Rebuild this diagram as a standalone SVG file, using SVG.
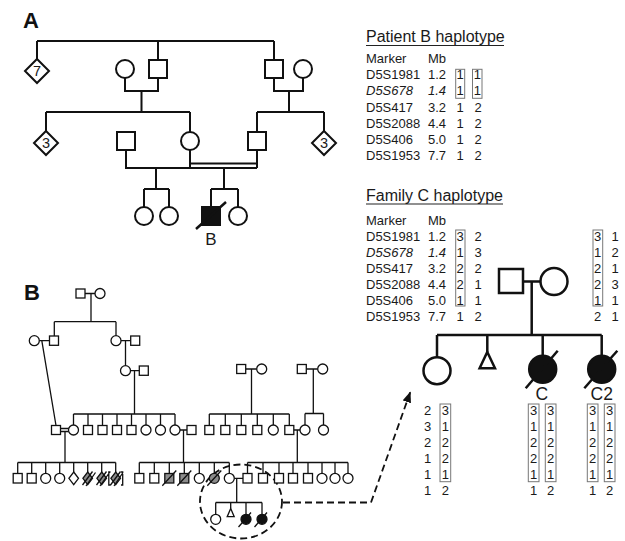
<svg xmlns="http://www.w3.org/2000/svg" width="625" height="541" viewBox="0 0 625 541">
<defs>
<style>
.t{font-family:"Liberation Sans",Arial,Helvetica,sans-serif;fill:#1a1a1a}
.h{font-size:16px}
.m{font-size:13px}
.i{font-style:italic}
.n{font-size:13px;text-anchor:middle}
.dg{font-size:14.5px;text-anchor:middle}
.lab{font-size:22px;font-weight:bold;fill:#111}
.sa{fill:#fff;stroke:#111;stroke-width:2}
.sb{fill:#fff;stroke:#111;stroke-width:1.3}
.sc{fill:#fff;stroke:#111;stroke-width:2.5}
.fa{fill:#111;stroke:#111;stroke-width:2}
.fb{fill:#111;stroke:#111;stroke-width:1.3}
.fc{fill:#111;stroke:#111;stroke-width:2.5}
.gb{fill:#8c8c8c;stroke:#111;stroke-width:1.3}
.la{fill:none;stroke:#111;stroke-width:2}
.lb{fill:none;stroke:#111;stroke-width:1.3}
.lc{fill:none;stroke:#111;stroke-width:2.5}
.box{fill:none;stroke:#777;stroke-width:1}
.dash{fill:none;stroke:#111;stroke-width:1.8;stroke-dasharray:7 4}
</style>
<marker id="ah" viewBox="0 0 10 8" refX="10" refY="4" markerWidth="11" markerHeight="9" markerUnits="userSpaceOnUse" orient="auto"><path d="M0,0L10,4L0,8z" fill="#111"/></marker>
</defs>
<rect width="625" height="541" fill="#fff"/>

<text class="t lab" x="23" y="28">A</text>
<text class="t lab" x="24" y="300">B</text>

<g id="connectors">
<path class="la" d="M37 41H274M37 41V59M158 41V60M274 41V60M125 78V91H158V78M141.5 91V112M46 112H190M46 112V131M190 112V132M274 78V91H303V78M289 91V112M257 112H324M257 112V132M324 112V131M126 150V168H257M190 150V168M190 163.5H257M257 150V168M156 168V189M144 189H169M144 189V207M169 189V207M224 168V189M211 189H238M211 189V207M238 189V207"/>
<path class="lc" d="M523 281.5H540.5M531.7 281.5V335M437 335H601.7M437 335V357M487.3 335V352M542.7 335V355.3M601.7 335V355.3"/>
<path class="lb" d="M85 293.5H95M91 293.5V321.7M54.3 321.7H116M54.3 321.7V336M116 321.7V335.7M39.3 340.7H49.5M121 340.7H130.7M41.8 340.7L56 425.5M125.5 340.7V365.7M130.5 370.7H139.3M134.5 370.7V414M73.5 414H175M73.5 414V425M88 414V425.5M102.5 414V425.5M117 414V425.5M131.5 414V425.5M146 414V425M160.5 414V425M175 414V425M60.5 428.5H68.8M60.5 431.5H68.8M65 431.5V462.5M180 430H187M183.5 430V462.5M245.7 369H256.7M251.5 369V414M209.3 414H289.3M209.3 414V425.5M225.3 414V425.5M241.3 414V425.5M257.3 414V425.5M273.3 414V425M289.3 414V425.5M306.3 369H317.7M313.3 369V413.5M305 413.5H323.5M305 413.5V425M323.5 413.5V425M293.8 430H300M297.3 430V462.5M17.7 462.5H115.7M17.7 462.5V473.5M31.7 462.5V473.5M45.7 462.5V473.3M59.7 462.5V473.3M73.7 462.5V472M87.7 462.5V472M101.7 462.5V472M115.7 462.5V472M139.3 462.5H229.3M139.3 462.5V473.5M154.3 462.5V473.5M169.3 462.5V473.5M184.3 462.5V473.5M199.3 462.5V473.3M214.3 462.5V473.3M229.3 462.5V473.3M247.5 462.5H348M247.5 462.5V473.5M263 462.5V473.5M279 462.5V473.5M293 462.5V473.5M308 462.5V473.5M322 462.5V473.3M335 462.5V473.3M348 462.5V473.3M234.3 478.3H243M236.7 478.3V502.5M215.7 502.5H262M215.7 502.5V514.3M230.7 502.5V508.5M246 502.5V514.3M262 502.5V514.3"/>
<ellipse class="dash" cx="241" cy="501.5" rx="41" ry="37"/>
<path class="dash" d="M283 502.5H371L410.5 391.5" marker-end="url(#ah)"/>
</g>

<!-- Panel A nodes -->
<g id="a-d7"><polygon class="sa" points="37,59 49,71 37,83 25,71"/><text class="t dg" x="37" y="76.2">7</text></g>
<g id="a-gm1"><circle class="sa" cx="125" cy="69" r="9"/></g>
<g id="a-gf1"><rect class="sa" x="149" y="60" width="18" height="18"/></g>
<g id="a-gf2"><rect class="sa" x="265" y="60" width="18" height="18"/></g>
<g id="a-gm2"><circle class="sa" cx="303" cy="69" r="9"/></g>
<g id="a-d3l"><polygon class="sa" points="46,131 58,143 46,155 34,143"/><text class="t dg" x="46" y="148.2">3</text></g>
<g id="a-h1"><rect class="sa" x="117" y="132" width="18" height="18"/></g>
<g id="a-mo"><circle class="sa" cx="190" cy="141" r="9"/></g>
<g id="a-h2"><rect class="sa" x="248" y="132" width="18" height="18"/></g>
<g id="a-d3r"><polygon class="sa" points="324,131 336,143 324,155 312,143"/><text class="t dg" x="324" y="148.2">3</text></g>
<g id="a-c1"><circle class="sa" cx="144" cy="216" r="9"/></g>
<g id="a-c2"><circle class="sa" cx="169" cy="216" r="9"/></g>
<g id="a-B"><rect class="fa" x="202" y="207" width="18" height="18"/><path class="lc" d="M196 229L226 202"/><text class="t" x="211" y="245" font-size="17" text-anchor="middle">B</text></g>
<g id="a-c4"><circle class="sa" cx="238" cy="216" r="9"/></g>

<!-- Patient B haplotype -->
<g id="tableB">
<text class="t h" x="366" y="42">Patient B haplotype</text>
<path d="M366 45.5H504" stroke="#222" stroke-width="1.2"/>
<text class="t m" x="366" y="63">Marker</text><text class="t m" x="428" y="63">Mb</text>
<text class="t m" x="366" y="79.2">D5S1981</text><text class="t m" x="428" y="79.2">1.2</text><text class="t n" x="460" y="79.2">1</text><text class="t n" x="477.3" y="79.2">1</text>
<text class="t m i" x="366" y="95.4">D5S678</text><text class="t m i" x="428" y="95.4">1.4</text><text class="t n" x="460" y="95.4">1</text><text class="t n" x="477.3" y="95.4">1</text>
<text class="t m" x="366" y="111.6">D5S417</text><text class="t m" x="428" y="111.6">3.2</text><text class="t n" x="460" y="111.6">1</text><text class="t n" x="478" y="111.6">2</text>
<text class="t m" x="366" y="127.8">D5S2088</text><text class="t m" x="428" y="127.8">4.4</text><text class="t n" x="460" y="127.8">1</text><text class="t n" x="478" y="127.8">2</text>
<text class="t m" x="366" y="144">D5S406</text><text class="t m" x="428" y="144">5.0</text><text class="t n" x="460" y="144">1</text><text class="t n" x="478" y="144">2</text>
<text class="t m" x="366" y="160.2">D5S1953</text><text class="t m" x="428" y="160.2">7.7</text><text class="t n" x="460" y="160.2">1</text><text class="t n" x="478" y="160.2">2</text>
<rect class="box" x="455.7" y="69.3" width="9" height="29"/>
<rect class="box" x="472.5" y="69.3" width="9.5" height="29"/>
</g>

<!-- Family C haplotype -->
<g id="tableC">
<text class="t h" x="366" y="200.5">Family C haplotype</text>
<path d="M366 204H503" stroke="#222" stroke-width="1.2"/>
<text class="t m" x="366" y="225">Marker</text><text class="t m" x="428" y="225">Mb</text>
<text class="t m" x="366" y="241">D5S1981</text><text class="t m" x="428" y="241">1.2</text>
<text class="t m i" x="366" y="257">D5S678</text><text class="t m i" x="428" y="257">1.4</text>
<text class="t m" x="366" y="273">D5S417</text><text class="t m" x="428" y="273">3.2</text>
<text class="t m" x="366" y="289">D5S2088</text><text class="t m" x="428" y="289">4.4</text>
<text class="t m" x="366" y="305">D5S406</text><text class="t m" x="428" y="305">5.0</text>
<text class="t m" x="366" y="321">D5S1953</text><text class="t m" x="428" y="321">7.7</text>
<text class="t n" x="460" y="241">3</text><text class="t n" x="478" y="241">2</text>
<text class="t n" x="460" y="257">1</text><text class="t n" x="478" y="257">3</text>
<text class="t n" x="460" y="273">2</text><text class="t n" x="478" y="273">2</text>
<text class="t n" x="460" y="289">2</text><text class="t n" x="478" y="289">1</text>
<text class="t n" x="460" y="305">1</text><text class="t n" x="478" y="305">1</text>
<text class="t n" x="460" y="321">1</text><text class="t n" x="478" y="321">2</text>
<text class="t n" x="597.7" y="241">3</text><text class="t n" x="615" y="241">1</text>
<text class="t n" x="597.7" y="257">1</text><text class="t n" x="615" y="257">2</text>
<text class="t n" x="597.7" y="273">2</text><text class="t n" x="615" y="273">1</text>
<text class="t n" x="597.7" y="289">2</text><text class="t n" x="615" y="289">3</text>
<text class="t n" x="597.7" y="305">1</text><text class="t n" x="615" y="305">1</text>
<text class="t n" x="597.7" y="321">2</text><text class="t n" x="615" y="321">1</text>
<rect class="box" x="455.7" y="230" width="9.3" height="76"/>
<rect class="box" x="593" y="230" width="9.7" height="76"/>
</g>

<!-- Family C pedigree -->
<g id="c-father"><rect class="sc" x="499" y="269" width="24" height="24"/></g>
<g id="c-mother"><circle class="sc" cx="554" cy="281.5" r="13.5"/></g>
<g id="c-sis"><circle class="sc" cx="437" cy="370.7" r="13.5"/>
<text class="t n" x="427.7" y="414.8">2</text><text class="t n" x="445.3" y="414.8">3</text>
<text class="t n" x="427.7" y="430.8">3</text><text class="t n" x="445.3" y="430.8">1</text>
<text class="t n" x="427.7" y="446.8">2</text><text class="t n" x="445.3" y="446.8">2</text>
<text class="t n" x="427.7" y="462.8">1</text><text class="t n" x="445.3" y="462.8">2</text>
<text class="t n" x="427.7" y="478.8">1</text><text class="t n" x="445.3" y="478.8">1</text>
<text class="t n" x="427.7" y="494.8">1</text><text class="t n" x="445.3" y="494.8">2</text>
<rect class="box" x="440" y="404" width="10.7" height="77.7"/></g>
<g id="c-tri"><polygon class="sc" points="487.3,352 495,368.3 479.6,368.3"/></g>
<g id="c-C"><circle class="fc" cx="542.7" cy="369.3" r="13.5"/><path class="lc" d="M525.7 388.3L557.7 350.7"/>
<text class="t" x="541.7" y="399.5" font-size="17.5" text-anchor="middle">C</text>
<text class="t n" x="533.6" y="414.8">3</text><text class="t n" x="550.7" y="414.8">3</text>
<text class="t n" x="533.6" y="430.8">1</text><text class="t n" x="550.7" y="430.8">1</text>
<text class="t n" x="533.6" y="446.8">2</text><text class="t n" x="550.7" y="446.8">2</text>
<text class="t n" x="533.6" y="462.8">2</text><text class="t n" x="550.7" y="462.8">2</text>
<text class="t n" x="533.6" y="478.8">1</text><text class="t n" x="550.7" y="478.8">1</text>
<text class="t n" x="533.6" y="494.8">1</text><text class="t n" x="550.7" y="494.8">2</text>
<rect class="box" x="528.3" y="404" width="10.7" height="77.7"/><rect class="box" x="545.3" y="404" width="10.7" height="77.7"/></g>
<g id="c-C2"><circle class="fc" cx="601.7" cy="369.3" r="13.5"/><path class="lc" d="M584.3 388.3L617.3 350.7"/>
<text class="t" x="601.7" y="399.5" font-size="17.5" text-anchor="middle">C2</text>
<text class="t n" x="592.7" y="414.8">3</text><text class="t n" x="609.7" y="414.8">3</text>
<text class="t n" x="592.7" y="430.8">1</text><text class="t n" x="609.7" y="430.8">1</text>
<text class="t n" x="592.7" y="446.8">2</text><text class="t n" x="609.7" y="446.8">2</text>
<text class="t n" x="592.7" y="462.8">2</text><text class="t n" x="609.7" y="462.8">2</text>
<text class="t n" x="592.7" y="478.8">1</text><text class="t n" x="609.7" y="478.8">1</text>
<text class="t n" x="592.7" y="494.8">1</text><text class="t n" x="609.7" y="494.8">2</text>
<rect class="box" x="587.3" y="404" width="10.7" height="77.7"/><rect class="box" x="604.3" y="404" width="10.7" height="77.7"/></g>

<!-- Panel B nodes -->
<g id="b-g1"><rect class="sb" x="76" y="289" width="9" height="9"/><circle class="sb" cx="100" cy="293.5" r="5"/></g>
<g id="b-g2a"><circle class="sb" cx="34.3" cy="340.7" r="5"/><rect class="sb" x="49.5" y="336" width="9" height="9.3"/></g>
<g id="b-g2b"><circle class="sb" cx="116" cy="340.7" r="5"/><rect class="sb" x="130.7" y="336" width="9" height="9.3"/></g>
<g id="b-g2c"><circle class="sb" cx="125.5" cy="370.7" r="5"/><rect class="sb" x="139.3" y="366" width="9" height="9.3"/></g>
<g id="b-g2d"><rect class="sb" x="236.7" y="364.5" width="9" height="9"/><circle class="sb" cx="261.7" cy="369" r="5"/></g>
<g id="b-g2e"><rect class="sb" x="297.3" y="364.5" width="9" height="9"/><circle class="sb" cx="322.7" cy="369" r="5"/></g>
<g id="b-g3">
<rect class="sb" x="51.5" y="425.5" width="9" height="9"/>
<circle class="sb" cx="73.5" cy="430" r="5"/>
<rect class="sb" x="83.5" y="425.5" width="9" height="9"/>
<rect class="sb" x="98" y="425.5" width="9" height="9"/>
<rect class="sb" x="112.5" y="425.5" width="9" height="9"/>
<rect class="sb" x="127" y="425.5" width="9" height="9"/>
<circle class="sb" cx="146" cy="430" r="5"/>
<circle class="sb" cx="160.5" cy="430" r="5"/>
<circle class="sb" cx="175" cy="430" r="5"/>
<rect class="sb" x="187" y="425.5" width="9" height="9"/>
<rect class="sb" x="204.8" y="425.5" width="9" height="9"/>
<rect class="sb" x="220.8" y="425.5" width="9" height="9"/>
<rect class="sb" x="236.8" y="425.5" width="9" height="9"/>
<rect class="sb" x="252.8" y="425.5" width="9" height="9"/>
<circle class="sb" cx="273.3" cy="430" r="5"/>
<rect class="sb" x="284.8" y="425.5" width="9" height="9"/>
<circle class="sb" cx="305" cy="430" r="5"/>
<circle class="sb" cx="323.5" cy="430" r="5"/>
</g>
<g id="b-g4a">
<rect class="sb" x="13.2" y="473.5" width="9" height="9.5"/>
<rect class="sb" x="27.2" y="473.5" width="9" height="9.5"/>
<circle class="sb" cx="45.7" cy="478.3" r="5"/>
<circle class="sb" cx="59.7" cy="478.3" r="5"/>
<polygon class="sb" points="73.7,472 78.5,478.3 73.7,484.6 68.9,478.3"/>
<polygon class="gb" points="87.7,472 92.5,478.3 87.7,484.6 82.9,478.3"/>
<polygon class="gb" points="101.7,472 106.5,478.3 101.7,484.6 96.9,478.3"/>
<polygon class="gb" points="115.7,472 120.5,478.3 115.7,484.6 110.9,478.3"/>
<path class="lb" d="M82.5 485L92.5 471.5M86 486L95.5 472.5M96.5 485L106.5 471.5M100 486L109.5 472.5M110.5 485L120.5 471.5M114 486L123 472.5M110.5 472H108.8V485H110.5M121 472H122.7V485H121"/>
</g>
<g id="b-g4b">
<rect class="sb" x="134.8" y="473.5" width="9" height="9.5"/>
<rect class="sb" x="149.8" y="473.5" width="9" height="9.5"/>
<rect class="gb" x="164.8" y="473.5" width="9" height="9.5"/>
<rect class="gb" x="179.8" y="473.5" width="9" height="9.5"/>
<circle class="sb" cx="199.3" cy="478.3" r="5"/>
<circle class="gb" cx="214.3" cy="478.3" r="5"/>
<circle class="sb" cx="229.3" cy="478.3" r="5"/>
<path class="lb" d="M162.3 485.8L176.3 470.5M177.3 485.8L191.3 470.5M207.3 485.8L221.3 470.5"/>
</g>
<g id="b-g4c">
<rect class="sb" x="243" y="473.5" width="9" height="9.5"/>
<rect class="sb" x="258.5" y="473.5" width="9" height="9.5"/>
<rect class="sb" x="274.5" y="473.5" width="9" height="9.5"/>
<rect class="sb" x="288.5" y="473.5" width="9" height="9.5"/>
<rect class="sb" x="303.5" y="473.5" width="9" height="9.5"/>
<circle class="sb" cx="322" cy="478.3" r="5"/>
<circle class="sb" cx="335" cy="478.3" r="5"/>
<circle class="sb" cx="348" cy="478.3" r="5"/>
</g>
<g id="b-g5">
<circle class="sb" cx="215.7" cy="519.3" r="5"/>
<polygon class="sb" points="230.7,508.5 234.2,516.7 227.2,516.7"/>
<circle class="fb" cx="246" cy="519.3" r="5"/>
<circle class="fb" cx="262" cy="519.3" r="5"/>
<path class="lb" d="M238.5 527L251 512.5M254.5 527L267 512.5"/>
</g>
</svg>
